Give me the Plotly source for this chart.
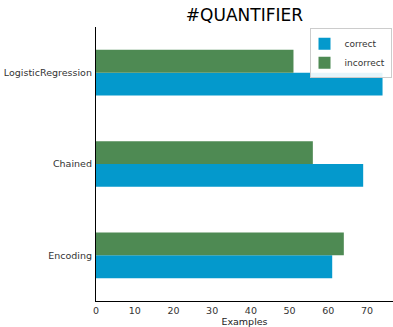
import plotly.graph_objects as go

# Categories (bottom to top) and example counts per outcome
models = ["Encoding", "Chained", "LogisticRegression"]
correct = [61, 69, 74]
incorrect = [64, 56, 51]

BLUE = "#0499CC"
GREEN = "#4E8A53"
FONT = "DejaVu Sans, Arial, sans-serif"

fig = go.Figure()
fig.add_trace(go.Bar(y=models, x=correct, orientation="h", name="correct",
                     marker=dict(color=BLUE, line=dict(width=0))))
fig.add_trace(go.Bar(y=models, x=incorrect, orientation="h", name="incorrect",
                     marker=dict(color=GREEN, line=dict(width=0))))

fig.update_layout(
    width=393, height=327,
    margin=dict(l=96, r=0, t=27, b=26),
    paper_bgcolor="white", plot_bgcolor="white",
    barmode="group", bargap=0.5, bargroupgap=0,
    font=dict(family=FONT, size=9.5, color="#333333"),
    title=dict(text="#QUANTIFIER", x=0.622, xanchor="center", y=0.955, yanchor="middle",
               font=dict(family=FONT, size=17, color="black")),
    legend=dict(x=0.995, y=0.995, xanchor="right", yanchor="top",
                bgcolor="rgba(255,255,255,0.9)", bordercolor="#CCCCCC", borderwidth=1,
                font=dict(size=9, color="#333333"),
                itemwidth=30, tracegroupgap=0, indentation=-6),
    showlegend=True,
)

fig.update_xaxes(range=[0, 76.7], tickvals=[0, 10, 20, 30, 40, 50, 60, 70],
                 showgrid=False, zeroline=False, showline=True, linecolor="black",
                 linewidth=1.3, ticks="", tickfont=dict(size=9.5, color="#333333"),
                 title=dict(text="Examples", font=dict(size=9.5, color="#222222"), standoff=4))
fig.update_yaxes(range=[-0.5, 2.5], showgrid=False, zeroline=False, showline=True,
                 linecolor="black", linewidth=1.3, ticks="", ticklabelstandoff=1,
                 tickfont=dict(size=9.5, color="#333333"))

fig.write_html("out.html")
